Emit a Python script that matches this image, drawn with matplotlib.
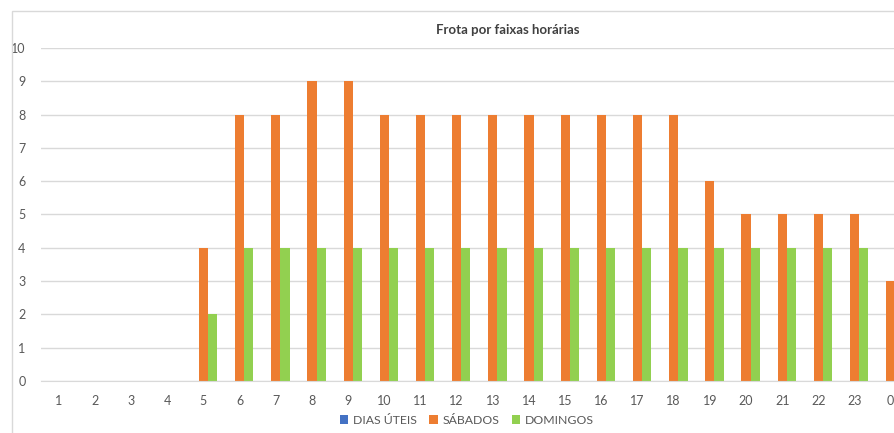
import matplotlib
matplotlib.use("Agg")
import matplotlib.pyplot as plt
import numpy as np
from matplotlib.patches import Rectangle

# faixas horárias
horas = ["1", "2", "3", "4", "5", "6", "7", "8", "9", "10", "11", "12",
         "13", "14", "15", "16", "17", "18", "19", "20", "21", "22", "23", "0"]
dias_uteis = [0] * 24
sabados = [0, 0, 0, 0, 4, 8, 8, 9, 9, 8, 8, 8, 8, 8, 8, 8, 8, 8, 6, 5, 5, 5, 5, 3]
domingos = [0, 0, 0, 0, 2, 4, 4, 4, 4, 4, 4, 4, 4, 4, 4, 4, 4, 4, 4, 4, 4, 4, 4, 2]

plt.rcParams['font.family'] = ['Lato', 'DejaVu Sans']

W, H = 895, 433
fig = plt.figure(figsize=(W / 100, H / 100), dpi=100)

# borda da área do gráfico (cortada à direita e embaixo)
fig.patches.append(Rectangle((12 / W, -0.1), 1.2, (H - 11) / H + 0.1,
                             transform=fig.transFigure, fill=False,
                             edgecolor='#d9d9d9', linewidth=1))

ax = fig.add_axes([40.7 / W, (H - 381) / H, (908.8 - 40.7) / W, (381 - 48) / H])

x = np.arange(len(horas))
w = 0.255
ax.bar(x - w, dias_uteis, w, color='#4472c4', label='DIAS ÚTEIS')
ax.bar(x, sabados, w, color='#ed7d31', label='SÁBADOS')
ax.bar(x + w, domingos, w, color='#92d050', label='DOMINGOS')

ax.set_xlim(-0.5, 23.5)
ax.set_ylim(0, 10)
ax.set_yticks(range(0, 11))
ax.set_xticks(x)
ax.set_xticklabels(horas)
ax.grid(axis='y', color='#d9d9d9', linewidth=1)
ax.set_axisbelow(True)
for s in ['top', 'right', 'left']:
    ax.spines[s].set_visible(False)
ax.spines['bottom'].set_color('#d9d9d9')
ax.tick_params(axis='both', length=0, labelsize=9, labelcolor='#595959')
ax.tick_params(axis='y', pad=11)
ax.tick_params(axis='x', pad=10)

fig.text(508 / W, (H - 30) / H, 'Frota por faixas horárias', ha='center', va='center',
         fontsize=9.5, fontweight='bold', color='#404040')

fig.legend(loc='center', bbox_to_anchor=(467 / W, (H - 420) / H), ncol=3, frameon=False,
           fontsize=8.8, labelcolor='#595959', handlelength=0.7, handleheight=0.7,
           handletextpad=0.4, columnspacing=1.0)

fig.savefig('out.png', dpi=100)
